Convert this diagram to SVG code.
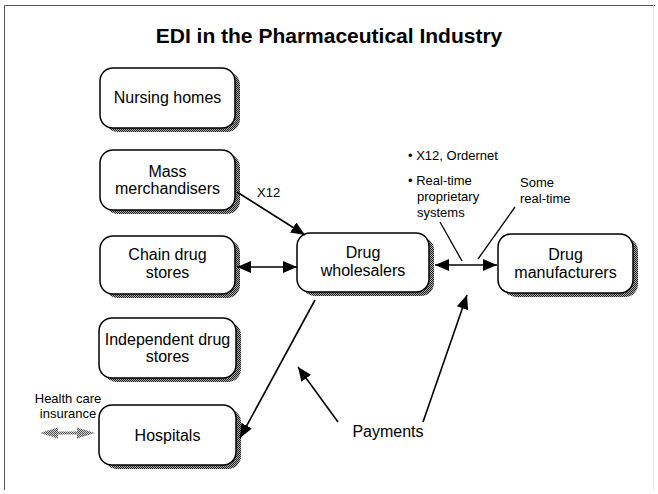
<svg xmlns="http://www.w3.org/2000/svg" width="658" height="494" viewBox="0 0 658 494">
<style>
.box{fill:#fff;stroke:#000;stroke-width:1.5}
.sh{fill:url(#dither)}
.t{font-family:"Liberation Sans",Arial,sans-serif;font-size:16px;fill:#000;text-anchor:middle}
.a{font-family:"Liberation Sans",Arial,sans-serif;font-size:13px;fill:#000}
.ln{stroke:#000;stroke-width:1.6;fill:none}
.ld{stroke:#000;stroke-width:1.3;fill:none}
</style>
<defs>
<pattern id="dither" width="2" height="2" patternUnits="userSpaceOnUse">
<rect width="2" height="2" fill="#aaa"/>
<rect width="1" height="1" fill="#222"/>
<rect x="1" y="1" width="1" height="1" fill="#222"/>
</pattern>
<pattern id="dither2" width="2" height="2" patternUnits="userSpaceOnUse">
<rect width="2" height="2" fill="#ccc"/>
<rect width="1" height="1" fill="#555"/>
<rect x="1" y="1" width="1" height="1" fill="#555"/>
</pattern>
<marker id="ah" markerUnits="userSpaceOnUse" markerWidth="16" markerHeight="12" refX="14" refY="6" orient="auto-start-reverse">
<path d="M0,0 L14,6 L0,12 Z" fill="#000"/>
</marker>
</defs>
<rect width="658" height="494" fill="#fff"/>
<path d="M4.5,490 V5.5 H655" fill="none" stroke="#555" stroke-width="1"/>
<path d="M653.5,5.5 V490" fill="none" stroke="#e4e4e4" stroke-width="1"/>
<text x="329" y="43" font-family="'Liberation Sans',Arial,sans-serif" font-size="21" font-weight="bold" text-anchor="middle">EDI in the Pharmaceutical Industry</text>

<g id="nursing-homes">
<rect class="sh" x="105" y="72" width="135" height="60" rx="13"/>
<rect class="box" x="100" y="68" width="135" height="60" rx="13"/>
<text class="t" x="167.5" y="103">Nursing homes</text>
</g>
<g id="mass-merchandisers">
<rect class="sh" x="105" y="154" width="135" height="60" rx="13"/>
<rect class="box" x="100" y="150" width="135" height="60" rx="13"/>
<text class="t" x="167.5" y="177">Mass</text>
<text class="t" x="167.5" y="194">merchandisers</text>
</g>
<g id="chain-drug-stores">
<rect class="sh" x="105" y="240" width="135" height="58" rx="13"/>
<rect class="box" x="100" y="236" width="135" height="58" rx="13"/>
<text class="t" x="167.5" y="260">Chain drug</text>
<text class="t" x="167.5" y="278">stores</text>
</g>
<g id="independent-drug-stores">
<rect class="sh" x="104" y="322" width="137" height="60" rx="13"/>
<rect class="box" x="99" y="318" width="137" height="60" rx="13"/>
<text class="t" x="167.5" y="345">Independent drug</text>
<text class="t" x="167.5" y="362">stores</text>
</g>
<g id="hospitals">
<rect class="sh" x="104" y="409" width="137" height="60" rx="13"/>
<rect class="box" x="99" y="405" width="137" height="60" rx="13"/>
<text class="t" x="167.5" y="441">Hospitals</text>
</g>
<g id="drug-wholesalers">
<rect class="sh" x="302" y="237" width="132" height="59" rx="13"/>
<rect class="box" x="297" y="233" width="132" height="59" rx="13"/>
<text class="t" x="363" y="258">Drug</text>
<text class="t" x="363" y="276">wholesalers</text>
</g>
<g id="drug-manufacturers">
<rect class="sh" x="503" y="238" width="135" height="59" rx="13"/>
<rect class="box" x="498" y="234" width="135" height="59" rx="13"/>
<text class="t" x="565.5" y="260">Drug</text>
<text class="t" x="565.5" y="278">manufacturers</text>
</g>

<g id="connectors">
<line class="ln" x1="237" y1="192" x2="305" y2="235" marker-end="url(#ah)"/>
<line class="ln" x1="237" y1="267" x2="297" y2="267" marker-start="url(#ah)" marker-end="url(#ah)"/>
<line class="ln" x1="435" y1="265" x2="497" y2="265" marker-start="url(#ah)" marker-end="url(#ah)"/>
<line class="ln" x1="315" y1="300" x2="240" y2="438" marker-end="url(#ah)"/>
<line class="ln" x1="338" y1="422" x2="298" y2="367" marker-end="url(#ah)"/>
<line class="ln" x1="423" y1="422" x2="467" y2="295" marker-end="url(#ah)"/>
<line class="ld" x1="440" y1="222" x2="462" y2="261"/>
<line class="ld" x1="515" y1="207" x2="478" y2="259"/>
<g id="health-care-arrow" fill="url(#dither2)">
<path d="M40,433 L58,427.5 L58,431.5 L77,431.5 L77,427.5 L95,433 L77,438.5 L77,434.5 L58,434.5 L58,438.5 Z"/>
</g>
</g>

<g id="labels">
<text class="a" x="257" y="197">X12</text>
<text class="a" x="408" y="160">• X12, Ordernet</text>
<text class="a" x="408" y="185">• Real-time</text>
<text class="a" x="417" y="201">proprietary</text>
<text class="a" x="417" y="217">systems</text>
<text class="a" x="520" y="187">Some</text>
<text class="a" x="520" y="203">real-time</text>
<text class="a" x="68" y="403" text-anchor="middle">Health care</text>
<text class="a" x="68" y="418" text-anchor="middle">insurance</text>
<text class="t" x="388" y="437">Payments</text>
</g>
</svg>
